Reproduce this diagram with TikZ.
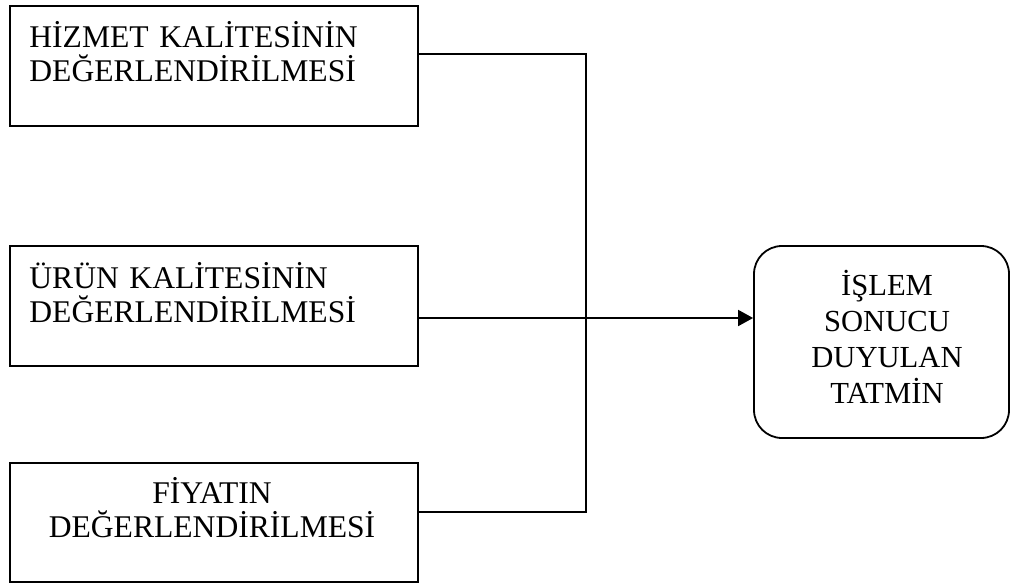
\documentclass[tikz,border=0pt]{standalone}
\usepackage{fontspec}
\setmainfont{Liberation Serif}
\usetikzlibrary{arrows.meta}

\begin{document}
\begin{tikzpicture}[x=0.5pt,y=-0.5pt,line cap=butt,line join=miter,
  box/.style={draw,line width=0.9pt,inner sep=0pt,minimum width=204pt,minimum height=60pt},
  lbl/.style={inner sep=0pt,text width=200pt,font=\fontsize{15.8}{17}\selectfont},
  conn/.style={line width=0.9pt}]
  \useasboundingbox (0,0) rectangle (1010,583);

  % Left boxes
  \node[box] (hizmet) at (214,66) {};
  \node[box] (urun) at (214,306) {};
  \node[box,minimum height=59.5pt] (fiyat) at (214,522.5) {};

  % Right box
  \node[box,rounded corners=14pt,minimum width=127.5pt,minimum height=96pt] (tatmin) at (881.5,342) {};

  % Texts
  \node[lbl,anchor=base west,align=left] (hizmettxt) at (29,48)
    {HİZMET KALİTESİNİN\\DEĞERLENDİRİLMESİ};
  \node[lbl,anchor=base west,align=left] (uruntxt) at (29,288)
    {ÜRÜN KALİTESİNİN\\DEĞERLENDİRİLMESİ};
  \node[lbl,anchor=base,align=center] (fiyattxt) at (212,503)
    {FİYATIN\\DEĞERLENDİRİLMESİ};
  \node[lbl,text width=120pt,anchor=base,align=center,
    font=\fontsize{15.3}{18}\selectfont] (tatmintxt) at (887,295)
    {İŞLEM\\SONUCU\\DUYULAN\\TATMİN};

  % Connectors
  \coordinate (hz) at ([yshift=6pt]hizmet.east);
  \coordinate (ur) at ([yshift=-6pt]urun.east);
  \coordinate (fy) at ([yshift=5.25pt]fiyat.east);
  \coordinate (bus) at (586,318);
  \draw[conn] (hz) -- (hz -| bus) -- (fy -| bus) -- (fy);
  \draw[conn,-{Triangle[length=7.5pt,width=8pt]}] (ur) -- (ur -| tatmin.west);
\end{tikzpicture}
\end{document}
